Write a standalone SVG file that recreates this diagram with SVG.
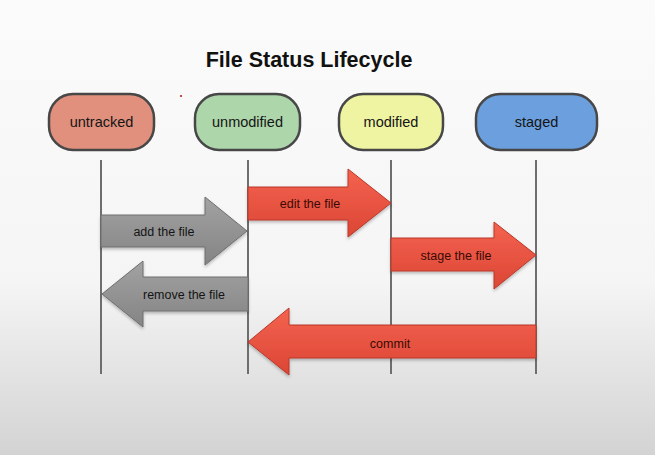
<svg xmlns="http://www.w3.org/2000/svg" width="655" height="455" viewBox="0 0 655 455">
  <defs>
    <linearGradient id="bg" x1="0" y1="0" x2="0" y2="1">
      <stop offset="0" stop-color="#fbfbfb"/>
      <stop offset="0.62" stop-color="#f5f5f5"/>
      <stop offset="1" stop-color="#d3d3d3"/>
    </linearGradient>
    <linearGradient id="redFill" x1="0" y1="0" x2="0" y2="1">
      <stop offset="0" stop-color="#f46350"/>
      <stop offset="1" stop-color="#dc4634"/>
    </linearGradient>
    <linearGradient id="grayFill" x1="0" y1="0" x2="0" y2="1">
      <stop offset="0" stop-color="#a2a2a2"/>
      <stop offset="1" stop-color="#848484"/>
    </linearGradient>
    <filter id="shadow" x="-10%" y="-10%" width="120%" height="130%">
      <feDropShadow dx="0" dy="2" stdDeviation="1.5" flood-color="#000" flood-opacity="0.25"/>
    </filter>
  </defs>
  <style>
    .node rect { stroke: #474747; stroke-width: 2.5; }
    .node text { font-family: "Liberation Sans", Arial, sans-serif; font-size: 14.5px; fill: #151515; text-anchor: middle; }
    .life { stroke: #6e6e6e; stroke-width: 2; }
    .red { fill: url(#redFill); stroke: #b8382a; stroke-width: 1; filter: url(#shadow); }
    .gray { fill: url(#grayFill); stroke: #6e6e6e; stroke-width: 1; filter: url(#shadow); }
    .lbl { font-family: "Liberation Sans", Arial, sans-serif; font-size: 12.5px; text-anchor: middle; }
    .lbl.r { fill: #3a0a06; }
    .lbl.g { fill: #141414; }
    .title { font-family: "Liberation Sans", Arial, sans-serif; font-size: 21.5px; font-weight: bold; fill: #111; text-anchor: middle; }
  </style>

  <rect width="655" height="455" fill="url(#bg)"/>

  <text class="title" x="309" y="67">File Status Lifecycle</text>
  <circle cx="181" cy="96" r="1" fill="#b01010"/>

  <!-- lifelines under each state -->
  <g id="lifelines">
    <line class="life" x1="101" y1="160" x2="101" y2="374"/>
    <line class="life" x1="248" y1="160" x2="248" y2="374"/>
    <line class="life" x1="391" y1="160" x2="391" y2="374"/>
    <line class="life" x1="536" y1="160" x2="536" y2="374"/>
  </g>

  <!-- state nodes -->
  <g id="untracked" class="node">
    <rect x="49" y="94" width="105" height="56" rx="24" ry="24" fill="#e0907d"/>
    <text x="101.5" y="127">untracked</text>
  </g>
  <g id="unmodified" class="node">
    <rect x="195" y="94" width="105" height="56" rx="24" ry="24" fill="#add6ab"/>
    <text x="247.5" y="127">unmodified</text>
  </g>
  <g id="modified" class="node">
    <rect x="339" y="94" width="104" height="56" rx="24" ry="24" fill="#eef4a2"/>
    <text x="391" y="127">modified</text>
  </g>
  <g id="staged" class="node">
    <rect x="476" y="94" width="121" height="56" rx="24" ry="24" fill="#6b9fdd"/>
    <text x="536.5" y="127">staged</text>
  </g>

  <!-- transitions -->
  <g id="connectors">
    <g id="add-the-file">
      <polygon class="gray" points="101,215 205,215 205,197 247,231 205,265 205,247 101,247"/>
      <text class="lbl g" x="164" y="236">add the file</text>
    </g>
    <g id="edit-the-file">
      <polygon class="red" points="248,187 348,187 348,169 391,203 348,237 348,220 248,220"/>
      <text class="lbl r" x="310" y="208">edit the file</text>
    </g>
    <g id="remove-the-file">
      <polygon class="gray" points="248,277 143,277 143,261 102,294 143,327 143,311 248,311"/>
      <text class="lbl g" x="184" y="299">remove the file</text>
    </g>
    <g id="stage-the-file">
      <polygon class="red" points="391,238 494,238 494,222 536,255 494,289 494,271 391,271"/>
      <text class="lbl r" x="456" y="260">stage the file</text>
    </g>
    <g id="commit">
      <polygon class="red" points="536,325 289,325 289,308 248,342 289,375 289,358 536,358"/>
      <text class="lbl r" x="390" y="348">commit</text>
    </g>
  </g>
</svg>
